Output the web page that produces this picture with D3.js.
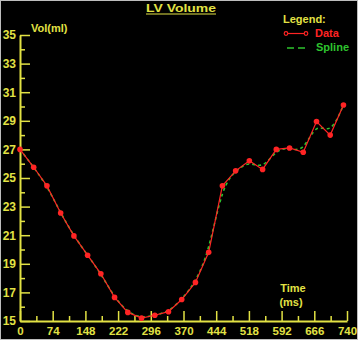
<!DOCTYPE html>
<html>
<head>
<meta charset="utf-8">
<script src="https://cdn.jsdelivr.net/npm/d3@7"></script>
<style>
  body { margin: 0; background: #000; }
  text { font-family: "Liberation Sans", Arial, sans-serif; font-weight: bold; }
</style>
</head>
<body>
<div id="chart"></div>
<script>
// LV volume samples (ms, ml)
const times = [0, 31, 61, 92, 122, 153, 183, 214, 244, 275, 305, 336, 366,
               397, 427, 458, 488, 519, 549, 580, 610, 641, 671, 702, 732];
const volumes = [27.0, 25.75, 24.45, 22.55, 20.95, 19.6, 18.3, 16.65, 15.6, 15.2, 15.4, 15.65, 16.5,
                 17.7, 19.8, 24.45, 25.5, 26.2, 25.6, 27.0, 27.1, 26.8, 28.95, 28.0, 30.1];
const xTicks = [0, 37, 74, 111, 148, 185, 222, 259, 296, 333, 370, 407, 444, 481, 518, 555, 592, 629, 666, 703, 740];
const xLabels = [0, 74, 148, 222, 296, 370, 444, 518, 592, 666, 740];
const yTicks = d3.range(15, 36);
const yLabels = [15, 17, 19, 21, 23, 25, 27, 29, 31, 33, 35];

const W = 358, H = 340;
const yellow = "#e2e244", red = "#ff2424", green = "#2ec42e";

const svg = d3.select("#chart").append("svg")
    .attr("width", W)
    .attr("height", H)
    .style("display", "block")
    .style("background", "#000");

svg.append("rect")
    .attr("x", 0.5).attr("y", 0.5)
    .attr("width", W - 1).attr("height", H - 1)
    .attr("fill", "none").attr("stroke", "#bdbdbd");

const x = d3.scaleLinear().domain([0, 740]).range([20, 347]);
const y = d3.scaleLinear().domain([15, 35]).range([321, 35]);

// x axis, ticks pointing up
const gx = svg.append("g")
    .attr("transform", "translate(0," + y(15) + ")")
    .call(d3.axisBottom(x).tickValues(xTicks).tickSize(-10).tickSizeOuter(0).tickPadding(6)
        .tickFormat(d => xLabels.includes(d) ? d : ""));
gx.selectAll(".tick line")
    .attr("y2", d => xLabels.includes(d) ? -10 : -5);

// y axis, ticks pointing right
const gy = svg.append("g")
    .attr("transform", "translate(" + x(0) + ",0)")
    .call(d3.axisLeft(y).tickValues(yTicks).tickSize(-10).tickSizeOuter(0).tickPadding(4)
        .tickFormat(d => yLabels.includes(d) ? d : ""));
gy.selectAll(".tick line")
    .attr("x2", d => yLabels.includes(d) ? 10 : 5);

[gx, gy].forEach(g => {
    g.select(".domain").attr("stroke", yellow).attr("stroke-width", 2);
    g.selectAll(".tick line").attr("stroke", yellow).attr("stroke-width", 1.5);
    g.selectAll(".tick text").attr("fill", yellow).style("font-size", "11.5px");
});
gy.selectAll(".tick text").style("font-size", "12px");

const pts = times.map((t, i) => [t, volumes[i]]);

// spline (smoothed), drawn under the data line
svg.append("path")
    .datum(pts)
    .attr("fill", "none")
    .attr("stroke", green)
    .attr("stroke-width", 1.6)
    .attr("stroke-dasharray", "3,3")
    .attr("d", d3.line().curve(d3.curveBasis).x(d => x(d[0])).y(d => y(d[1])));

// data line
svg.append("path")
    .datum(pts)
    .attr("fill", "none")
    .attr("stroke", red)
    .attr("stroke-width", 1.2)
    .attr("d", d3.line().x(d => x(d[0])).y(d => y(d[1])));

svg.selectAll(".pt")
    .data(pts)
    .enter().append("circle")
    .attr("class", "pt")
    .attr("cx", d => x(d[0]))
    .attr("cy", d => y(d[1]))
    .attr("r", 2.8)
    .attr("fill", red);

// title
svg.append("text")
    .attr("x", 181).attr("y", 12)
    .attr("text-anchor", "middle")
    .attr("fill", yellow)
    .style("font-size", "11px")
    .attr("textLength", 70).attr("lengthAdjust", "spacingAndGlyphs")
    .text("LV Volume");
svg.append("line")
    .attr("x1", 146).attr("x2", 216)
    .attr("y1", 14).attr("y2", 14)
    .attr("stroke", yellow).attr("stroke-width", 1.2);

// axis titles
svg.append("text")
    .attr("x", 31).attr("y", 31.5)
    .attr("fill", yellow)
    .style("font-size", "11px")
    .text("Vol(ml)");
svg.append("text")
    .attr("x", 293).attr("y", 291.5)
    .attr("text-anchor", "middle")
    .attr("fill", yellow)
    .style("font-size", "11px")
    .text("Time");
svg.append("text")
    .attr("x", 291).attr("y", 306)
    .attr("text-anchor", "middle")
    .attr("fill", yellow)
    .style("font-size", "11px")
    .text("(ms)");

// legend
svg.append("text")
    .attr("x", 283).attr("y", 22.5)
    .attr("fill", yellow)
    .style("font-size", "11px")
    .text("Legend:");
svg.append("line")
    .attr("x1", 286).attr("x2", 306).attr("y1", 33.5).attr("y2", 33.5)
    .attr("stroke", red).attr("stroke-width", 1.2);
[286, 306].forEach(cx => svg.append("circle")
    .attr("cx", cx).attr("cy", 33.5).attr("r", 1.8)
    .attr("fill", "#000").attr("stroke", red).attr("stroke-width", 1.2));
svg.append("text")
    .attr("x", 315).attr("y", 36.5)
    .attr("fill", red)
    .style("font-size", "11px")
    .text("Data");
svg.append("line")
    .attr("x1", 287).attr("x2", 305).attr("y1", 48).attr("y2", 48)
    .attr("stroke", green).attr("stroke-width", 1.5)
    .attr("stroke-dasharray", "7,4");
svg.append("text")
    .attr("x", 316).attr("y", 50.5)
    .attr("fill", green)
    .style("font-size", "11px")
    .text("Spline");
</script>
</body>
</html>
